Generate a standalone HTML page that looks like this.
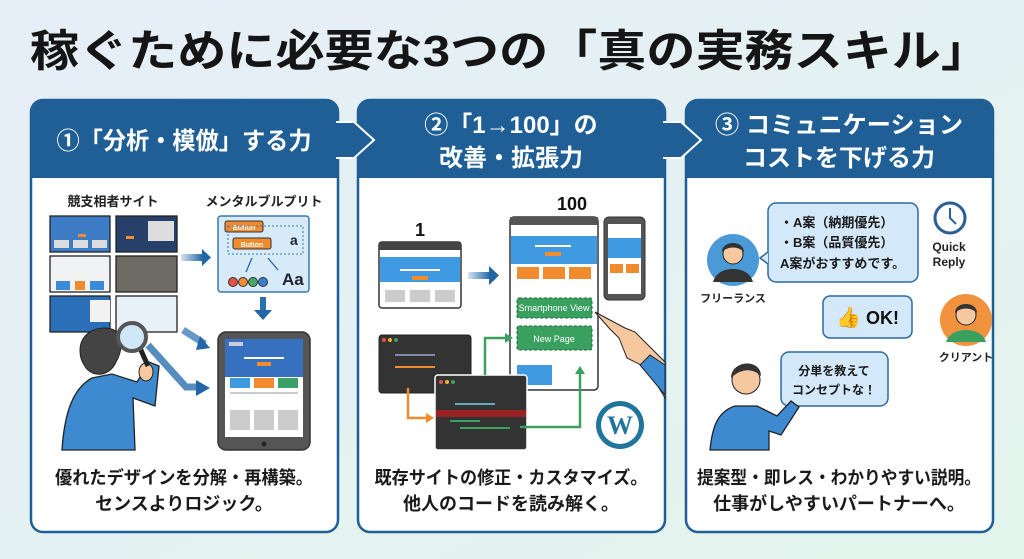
<!DOCTYPE html>
<html><head><meta charset="utf-8"><style>
html,body{margin:0;padding:0;width:1024px;height:559px;overflow:hidden;}
svg{display:block;font-family:"Liberation Sans","Noto Sans CJK JP",sans-serif;}
</style></head><body>
<svg width="1024" height="559" viewBox="0 0 1024 559" xmlns="http://www.w3.org/2000/svg">
<defs>
<linearGradient id="bg" x1="0" y1="0" x2="1" y2="1"><stop offset="0" stop-color="#e6eef8"/><stop offset="1" stop-color="#e3f4ec"/></linearGradient>
<linearGradient id="arr" x1="0" y1="0" x2="1" y2="0"><stop offset="0" stop-color="#2a70b0" stop-opacity="0.2"/><stop offset="1" stop-color="#2266a6"/></linearGradient>
</defs>
<rect width="1024" height="559" fill="url(#bg)"/>
<text x="30" y="66" font-size="44" font-weight="bold" fill="#151515" textLength="960" lengthAdjust="spacingAndGlyphs">稼ぐために必要な3つの「真の実務スキル」</text>

<g stroke="#1f5f96" stroke-width="2.5">
<rect x="31" y="100" width="307" height="432" rx="12" fill="#fff"/>
<rect x="358" y="100" width="307" height="432" rx="12" fill="#fff"/>
<rect x="686" y="100" width="307" height="432" rx="12" fill="#fff"/>
</g>
<g fill="#1f5f96">
<path d="M31 112a12 12 0 0 1 12-12h283a12 12 0 0 1 12 12v66h-307z"/>
<path d="M358 112a12 12 0 0 1 12-12h283a12 12 0 0 1 12 12v66h-307z"/>
<path d="M686 112a12 12 0 0 1 12-12h283a12 12 0 0 1 12 12v66h-307z"/>
</g>
<g fill="#1f5f96" stroke="#fff" stroke-width="2" stroke-linejoin="miter">
<path d="M336 122h18l20 18-20 18h-18"/>
<path d="M663 122h18l20 18-20 18h-18"/>
</g>
<g fill="#fff" font-weight="bold" font-size="24" text-anchor="middle">
<text x="184" y="149" textLength="255" lengthAdjust="spacingAndGlyphs">①「分析・模倣」する力</text>
<text x="511" y="133">②「1→100」の</text>
<text x="511" y="166">改善・拡張力</text>
<text x="839" y="133" textLength="248" lengthAdjust="spacingAndGlyphs">③ コミュニケーション</text>
<text x="839" y="166">コストを下げる力</text>
</g>
<g fill="#1a1a1a" font-weight="bold" font-size="18" text-anchor="middle">
<text x="184" y="484" textLength="258" lengthAdjust="spacingAndGlyphs">優れたデザインを分解・再構築。</text>
<text x="184" y="510">センスよりロジック。</text>
<text x="511" y="484" textLength="273" lengthAdjust="spacingAndGlyphs">既存サイトの修正・カスタマイズ。</text>
<text x="511" y="510">他人のコードを読み解く。</text>
<text x="839" y="484" textLength="284" lengthAdjust="spacingAndGlyphs">提案型・即レス・わかりやすい説明。</text>
<text x="839" y="510">仕事がしやすいパートナーへ。</text>
</g>

<g font-weight="bold" font-size="13" fill="#222" text-anchor="middle">
<text x="113" y="206">競支相者サイト</text>
<text x="264" y="206">メンタルブルプリト</text>
</g>
<g stroke="#222" stroke-width="1.3">
<rect x="50" y="216" width="60" height="36" fill="#3d7cc4"/><rect x="116" y="216" width="61" height="36" fill="#26406a"/>
<rect x="50" y="256" width="60" height="36" fill="#f0f2f4"/><rect x="116" y="256" width="61" height="36" fill="#6e6a64"/>
<rect x="50" y="296" width="60" height="36" fill="#2b6fb8"/><rect x="116" y="296" width="61" height="36" fill="#e8f0f8"/>
</g>
<g fill="#ddd"><rect x="54" y="240" width="15" height="8"/><rect x="73" y="240" width="15" height="8"/><rect x="92" y="240" width="15" height="8"/></g>
<g fill="#f28a2e"><rect x="78" y="234" width="8" height="3"/><rect x="75" y="281" width="10" height="9"/><rect x="126" y="236" width="8" height="3"/></g>
<rect x="56" y="281" width="14" height="9" fill="#3b8ad8"/><rect x="90" y="281" width="14" height="9" fill="#3b8ad8"/>
<rect x="90" y="300" width="20" height="22" fill="#f2f2f2"/>
<rect x="148" y="221" width="26" height="20" fill="#ddd"/>
<rect x="218" y="216" width="91" height="76" rx="3" fill="#d7eaf8" stroke="#3a78b4" stroke-width="1.5"/>
<rect x="225" y="221" width="38" height="11" rx="2" fill="#f28a2e" stroke="#333"/>
<rect x="233" y="238" width="38" height="11" rx="2" fill="#f28a2e" stroke="#333"/>
<g fill="#fff" font-size="7" font-weight="bold" text-anchor="middle"><text x="244" y="230">Button</text><text x="252" y="247">Button</text></g>
<rect x="228" y="226" width="75" height="28" fill="none" stroke="#3a78b4" stroke-dasharray="2 2"/>
<text x="290" y="245" font-size="14" font-weight="bold" fill="#223">a</text>
<text x="282" y="285" font-size="17" font-weight="bold" fill="#223">Aa</text>
<circle cx="233" cy="282" r="4.5" fill="#e5504a" stroke="#333"/><circle cx="243" cy="282" r="4.5" fill="#f28a2e" stroke="#333"/><circle cx="253" cy="282" r="4.5" fill="#46a86a" stroke="#333"/><circle cx="263" cy="282" r="4.5" fill="#3b7fd0" stroke="#333"/>
<g stroke="#2266a6" stroke-width="1.3" fill="none"><path d="M252 258l-6 14M268 258l10 12"/></g>
<rect x="181" y="254" width="22" height="7" fill="url(#arr)"/><path d="M202 249l9 8.5-9 8.5z" fill="#2266a6"/>
<rect x="260" y="297" width="6" height="14" fill="#2a70b0"/><path d="M254 310h18l-9 10z" fill="#2266a6"/>
<path d="M183 330l22 14" stroke="#2a70b0" stroke-width="7" opacity="0.7"/><path d="M200 336l10 12-14 2z" fill="#2266a6"/>
<path d="M148 345l38 42h12" stroke="#2a70b0" stroke-width="7" fill="none" opacity="0.8"/><path d="M196 380l14 8-14 8z" fill="#2266a6"/>
<rect x="218" y="332" width="92" height="118" rx="8" fill="#555" stroke="#333" stroke-width="1.5"/>
<rect x="225" y="339" width="78" height="98" fill="#fff"/>
<rect x="225" y="339" width="78" height="38" fill="#3670bf"/>
<rect x="229" y="342" width="14" height="4" fill="#ccd"/>
<rect x="244" y="357" width="40" height="2" fill="#fff"/><rect x="257" y="362" width="14" height="4" fill="#f28a2e"/>
<rect x="230" y="378" width="20" height="10" fill="#3d99e0"/><rect x="254" y="378" width="20" height="10" fill="#f28a2e"/><rect x="278" y="378" width="20" height="10" fill="#3aa065"/>
<g fill="#ccc"><rect x="230" y="392" width="68" height="2"/><rect x="230" y="410" width="20" height="20"/><rect x="254" y="410" width="20" height="20"/><rect x="278" y="410" width="20" height="20"/></g>
<circle cx="264" cy="444" r="2.5" fill="#222"/>
<path d="M62 450c2-30 8-60 30-72l20-4 25 8 12-20 10 4-4 40-22-8 2 52z" fill="#3d8ad0" stroke="#222" stroke-width="1.3"/>
<path d="M80 350c0-18 20-26 34-20 10 6 8 22 2 32-6 14-22 16-30 6-4-6-6-10-6-18z" fill="#444" stroke="#222"/>
<ellipse cx="146" cy="372" rx="7" ry="9" fill="#f6c8a0" stroke="#222"/>
<path d="M140 348l8 18" stroke="#222" stroke-width="5"/>
<circle cx="132" cy="337" r="14" fill="#cfe6f7" stroke="#555" stroke-width="4"/>

<g font-weight="bold" font-size="18" fill="#111" text-anchor="middle"><text x="420" y="236">1</text><text x="572" y="210">100</text></g>
<rect x="379" y="242" width="82" height="66" rx="3" fill="#fff" stroke="#333" stroke-width="1.5"/>
<rect x="379" y="242" width="82" height="8" fill="#444"/>
<rect x="380" y="257" width="80" height="25" fill="#3f9ae2"/><rect x="400" y="269" width="40" height="2" fill="#fff"/><rect x="412" y="276" width="16" height="4" fill="#f28a2e"/>
<g fill="#ccc"><rect x="385" y="290" width="20" height="12"/><rect x="410" y="290" width="20" height="12"/><rect x="435" y="290" width="20" height="12"/></g>
<rect x="468" y="272" width="22" height="7" fill="url(#arr)"/><path d="M489 266l10 9.5-10 9.5z" fill="#2266a6"/>
<rect x="510" y="217" width="88" height="173" rx="4" fill="#fff" stroke="#333" stroke-width="1.5"/>
<rect x="510" y="217" width="88" height="8" fill="#555"/>
<rect x="511" y="236" width="86" height="28" fill="#3f9ae2"/><rect x="535" y="245" width="36" height="2" fill="#fff"/><rect x="545" y="252" width="16" height="4" fill="#f28a2e"/>
<g fill="#f28a2e"><rect x="517" y="267" width="22" height="12"/><rect x="543" y="267" width="22" height="12"/><rect x="569" y="267" width="22" height="12"/></g>
<rect x="517" y="365" width="35" height="20" fill="#3f9ae2"/>
<rect x="604" y="217" width="41" height="83" rx="5" fill="#555" stroke="#333"/><rect x="608" y="224" width="33" height="70" fill="#fff"/>
<rect x="608" y="238" width="33" height="20" fill="#3f9ae2"/><rect x="610" y="264" width="13" height="9" fill="#f28a2e"/><rect x="626" y="264" width="13" height="9" fill="#f28a2e"/>
<rect x="517" y="298" width="75" height="20" rx="2" fill="#3aa060" stroke="#1d6a3a" stroke-dasharray="3 2"/>
<rect x="517" y="326" width="75" height="24" rx="2" fill="#3aa060" stroke="#1d6a3a" stroke-dasharray="3 2"/>
<g fill="#fff" font-size="9" text-anchor="middle"><text x="554" y="311">Smartphone View</text><text x="554" y="342">New Page</text></g>
<rect x="379" y="335" width="92" height="58" rx="3" fill="#333" stroke="#222"/>
<rect x="435" y="375" width="92" height="75" rx="3" fill="#333" stroke="#fff" stroke-width="1.5"/>
<rect x="436" y="410" width="90" height="7" fill="#9b2222"/>
<g fill="#6ab" ><rect x="455" y="403" width="40" height="2"/></g>
<g fill="#3aa060"><rect x="450" y="420" width="30" height="2"/><rect x="460" y="427" width="50" height="2"/></g>
<rect x="395" y="366" width="40" height="2" fill="#f28a2e"/><rect x="395" y="354" width="40" height="2" fill="#88a"/>
<circle cx="384" cy="340" r="2" fill="#e5504a"/><circle cx="390" cy="340" r="2" fill="#f2b030"/><circle cx="396" cy="340" r="2" fill="#3aa060"/>
<circle cx="441" cy="382" r="2" fill="#e5504a"/><circle cx="447" cy="382" r="2" fill="#f2b030"/><circle cx="453" cy="382" r="2" fill="#3aa060"/>
<path d="M408 388v30h20" stroke="#f28a2e" stroke-width="2.5" fill="none"/><path d="M426 413l8 5-8 5z" fill="#f28a2e"/>
<path d="M485 375v-37h22" stroke="#3aa060" stroke-width="2.5" fill="none"/><path d="M505 333l8 5-8 5z" fill="#3aa060"/>
<path d="M520 427h60v-55" stroke="#3aa060" stroke-width="2.5" fill="none"/><path d="M575 374l5-8 5 8z" fill="#3aa060"/>
<path d="M595 312l14 16 10 10 8 20 20 10 18 30v-36l-30-30-10-4z" fill="#f6c8a0" stroke="#222"/>
<path d="M640 365l25 30v-30l-15-10z" fill="#3d8ad0" stroke="#222"/>
<circle cx="620" cy="425" r="24" fill="#21759b"/><circle cx="620" cy="425" r="19" fill="#fff"/>
<text x="620" y="434" font-size="26" font-family="Liberation Serif,serif" font-weight="bold" fill="#21759b" text-anchor="middle">W</text>

<circle cx="733" cy="260" r="26" fill="#4a9ad8"/>
<path d="M713 282c3-10 12-13 20-13s17 3 20 13z" fill="#333"/>
<circle cx="733" cy="254" r="10" fill="#f6c8a0" stroke="#222"/><path d="M722 252c0-12 22-12 22 0c-6-6-16-6-22 0z" fill="#333"/>
<text x="733" y="302" font-size="11" font-weight="bold" fill="#222" text-anchor="middle">フリーランス</text>
<rect x="768" y="203" width="150" height="79" rx="8" fill="#d3e8f8" stroke="#2f6aa2" stroke-width="1.5"/>
<path d="M768 252l-8 6 8 6" fill="#d3e8f8" stroke="#2f6aa2" stroke-width="1.5"/>
<g font-size="13" font-weight="bold" fill="#1a1a1a"><text x="780" y="227">・A案（納期優先）</text><text x="780" y="247">・B案（品質優先）</text><text x="780" y="268">A案がおすすめです。</text></g>
<circle cx="950" cy="218" r="15" fill="#fff" stroke="#2a5f96" stroke-width="3"/><path d="M950 208v10l6 6" stroke="#2a5f96" stroke-width="2" fill="none"/>
<g font-size="12" font-weight="bold" fill="#222" text-anchor="middle"><text x="949" y="251">Quick</text><text x="949" y="266">Reply</text></g>
<rect x="823" y="296" width="89" height="42" rx="7" fill="#d3e8f8" stroke="#2f6aa2" stroke-width="1.5"/>
<text x="836" y="324" font-size="20">👍</text><text x="866" y="324" font-size="18" font-weight="bold" fill="#111">OK!</text>
<circle cx="966" cy="320" r="26" fill="#f0923e"/>
<path d="M946 342c3-9 12-12 20-12s17 3 20 12z" fill="#3aa060"/>
<circle cx="966" cy="315" r="10" fill="#f6c8a0" stroke="#222"/><path d="M955 313c0-12 22-12 22 0c-6-6-16-6-22 0z" fill="#333"/>
<text x="966" y="361" font-size="11" font-weight="bold" fill="#222" text-anchor="middle">クリアント</text>
<rect x="781" y="352" width="107" height="54" rx="8" fill="#d3e8f8" stroke="#2f6aa2" stroke-width="1.5"/>
<g font-size="12" font-weight="bold" fill="#1a1a1a" text-anchor="middle"><text x="834" y="375">分単を教えて</text><text x="834" y="394">コンセプトな！</text></g>
<path d="M710 450c2-20 6-38 25-44l22 0 20 10 14-15 8 6-18 28-12-4v19z" fill="#3d8ad0" stroke="#222" stroke-width="1.3"/>
<circle cx="746" cy="380" r="14" fill="#f6c8a0" stroke="#222"/><path d="M731 378c0-18 30-20 30-2c-8-8-20-8-30 2z" fill="#333"/>
</svg>
</body></html>
